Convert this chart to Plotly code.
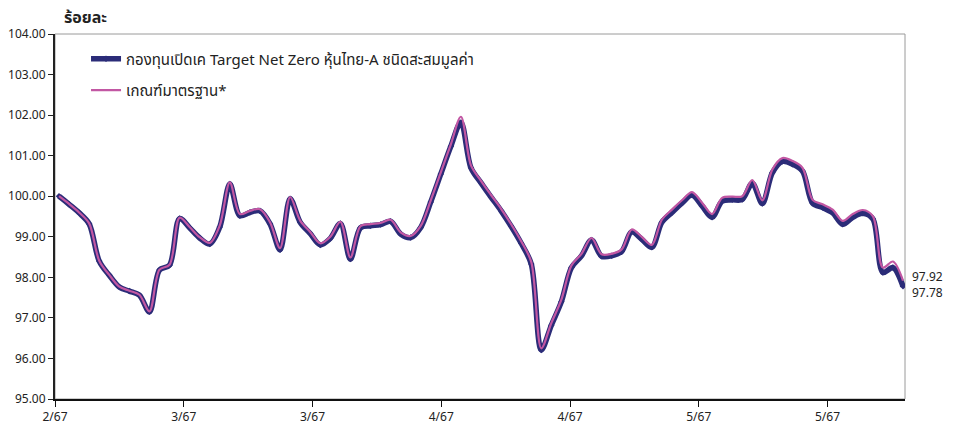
import plotly.graph_objects as go

# ---- data ----
fund_name = "กองทุนเปิดเค Target Net Zero หุ้นไทย-A ชนิดสะสมมูลค่า"
bench_name = "เกณฑ์มาตรฐาน*"

fund = [
    100.00, 99.80, 99.59, 99.32, 98.40, 98.05, 97.76, 97.66, 97.56, 97.15,
    98.18, 98.30, 99.45, 99.22, 98.97, 98.82, 99.24, 100.30, 99.52, 99.60,
    99.64, 99.32, 98.68, 99.94, 99.36, 99.08, 98.80, 98.96, 99.33, 98.45,
    99.22, 99.27, 99.30, 99.38, 99.07, 98.98, 99.23, 99.86, 100.55, 101.23,
    101.82, 100.70, 100.33, 99.98, 99.64, 99.26, 98.84, 98.33, 96.21, 96.82,
    97.40, 98.24, 98.53, 98.92, 98.52, 98.53, 98.64, 99.12, 98.94, 98.74,
    99.36, 99.60, 99.83, 100.03, 99.76, 99.48, 99.88, 99.91, 99.92, 100.32,
    99.82, 100.58, 100.86, 100.79, 100.62, 99.83, 99.72, 99.59, 99.31, 99.48,
    99.58, 99.44, 98.12, 98.24, 97.78,
]

bench = [
    100.00, 99.81, 99.60, 99.33, 98.41, 98.06, 97.77, 97.67, 97.57, 97.16,
    98.19, 98.31, 99.47, 99.24, 98.99, 98.85, 99.28, 100.34, 99.56, 99.64,
    99.68, 99.36, 98.72, 99.98, 99.40, 99.12, 98.84, 99.00, 99.37, 98.49,
    99.26, 99.31, 99.34, 99.42, 99.11, 99.02, 99.27, 99.90, 100.59, 101.28,
    101.96, 100.76, 100.38, 100.03, 99.69, 99.31, 98.89, 98.38, 96.25, 96.87,
    97.45, 98.29, 98.58, 98.97, 98.57, 98.58, 98.69, 99.18, 99.00, 98.80,
    99.42, 99.67, 99.90, 100.10, 99.84, 99.56, 99.96, 99.99, 100.00, 100.40,
    99.90, 100.66, 100.94, 100.87, 100.70, 99.91, 99.80, 99.67, 99.39, 99.56,
    99.66, 99.51, 98.24, 98.39, 97.92,
]

points = list(range(len(fund)))

tick_labels = ["2/67", "3/67", "3/67", "4/67", "4/67", "5/67", "5/67"]
tick_step = 12.815
x_start = -0.4
x_end = 84.2
tick_pos = [x_start + tick_step * k for k in range(len(tick_labels))]

y_ticks = [95, 96, 97, 98, 99, 100, 101, 102, 103, 104]

NAVY = "#2B2C78"
PINK = "#C257A3"
FONT = "Tahoma, 'Noto Sans Thai', 'Liberation Sans', 'DejaVu Sans', sans-serif"

fig = go.Figure()
fig.add_trace(go.Scatter(
    x=points, y=fund, name=fund_name, legendgroup="a",
    mode="lines+markers",
    line=dict(color=NAVY, width=5.5, shape="spline", smoothing=0.9),
    marker=dict(symbol="diamond", size=5, color=NAVY),
))
fig.add_trace(go.Scatter(
    x=points, y=bench, name=bench_name, legendgroup="b",
    mode="lines",
    line=dict(color=PINK, width=2.2, shape="spline", smoothing=0.9),
))

# end labels
fig.add_annotation(x=points[-1], y=bench[-1], text=f"{bench[-1]:.2f}", showarrow=False,
                   xanchor="left", yanchor="middle", xshift=7, yshift=4,
                   font=dict(size=12, color="#222222", family=FONT))
fig.add_annotation(x=points[-1], y=fund[-1], text=f"{fund[-1]:.2f}", showarrow=False,
                   xanchor="left", yanchor="middle", xshift=7, yshift=-7,
                   font=dict(size=12, color="#222222", family=FONT))

# y-axis title text
fig.add_annotation(xref="paper", yref="paper", x=0.008, y=1.045, text="<b>ร้อยละ</b>",
                   showarrow=False, xanchor="left", yanchor="middle",
                   font=dict(size=16, color="#222222", family=FONT))

# frame
fig.add_shape(type="rect", xref="paper", yref="paper", x0=0, y0=0, x1=1, y1=1,
              line=dict(color="#9a9a9a", width=1), layer="below")

fig.update_layout(
    width=947, height=424,
    margin=dict(l=47, r=50, t=26, b=33, autoexpand=False),
    paper_bgcolor="white", plot_bgcolor="white",
    font=dict(family=FONT, size=12, color="#222222"),
    showlegend=True,
    legend=dict(x=0.0365, y=0.977, xanchor="left", yanchor="top",
                bgcolor="rgba(0,0,0,0)", font=dict(size=15, family=FONT, color="#222222"),
                tracegroupgap=9, itemwidth=30),
    xaxis=dict(range=[x_start, x_end], tickvals=tick_pos, ticktext=tick_labels,
               showgrid=False, zeroline=False, showline=True, linecolor="#111111", linewidth=1.5,
               ticks="outside", ticklen=6, tickcolor="#111111", tickfont=dict(size=12),
               automargin=False),
    yaxis=dict(range=[95, 104], tickvals=y_ticks, tickformat=".2f",
               showgrid=False, zeroline=False, showline=True, linecolor="#222222", linewidth=2,
               ticks="outside", ticklen=5, tickcolor="#222222", tickfont=dict(size=12),
               automargin=False),
)

fig.write_html("out.html")
